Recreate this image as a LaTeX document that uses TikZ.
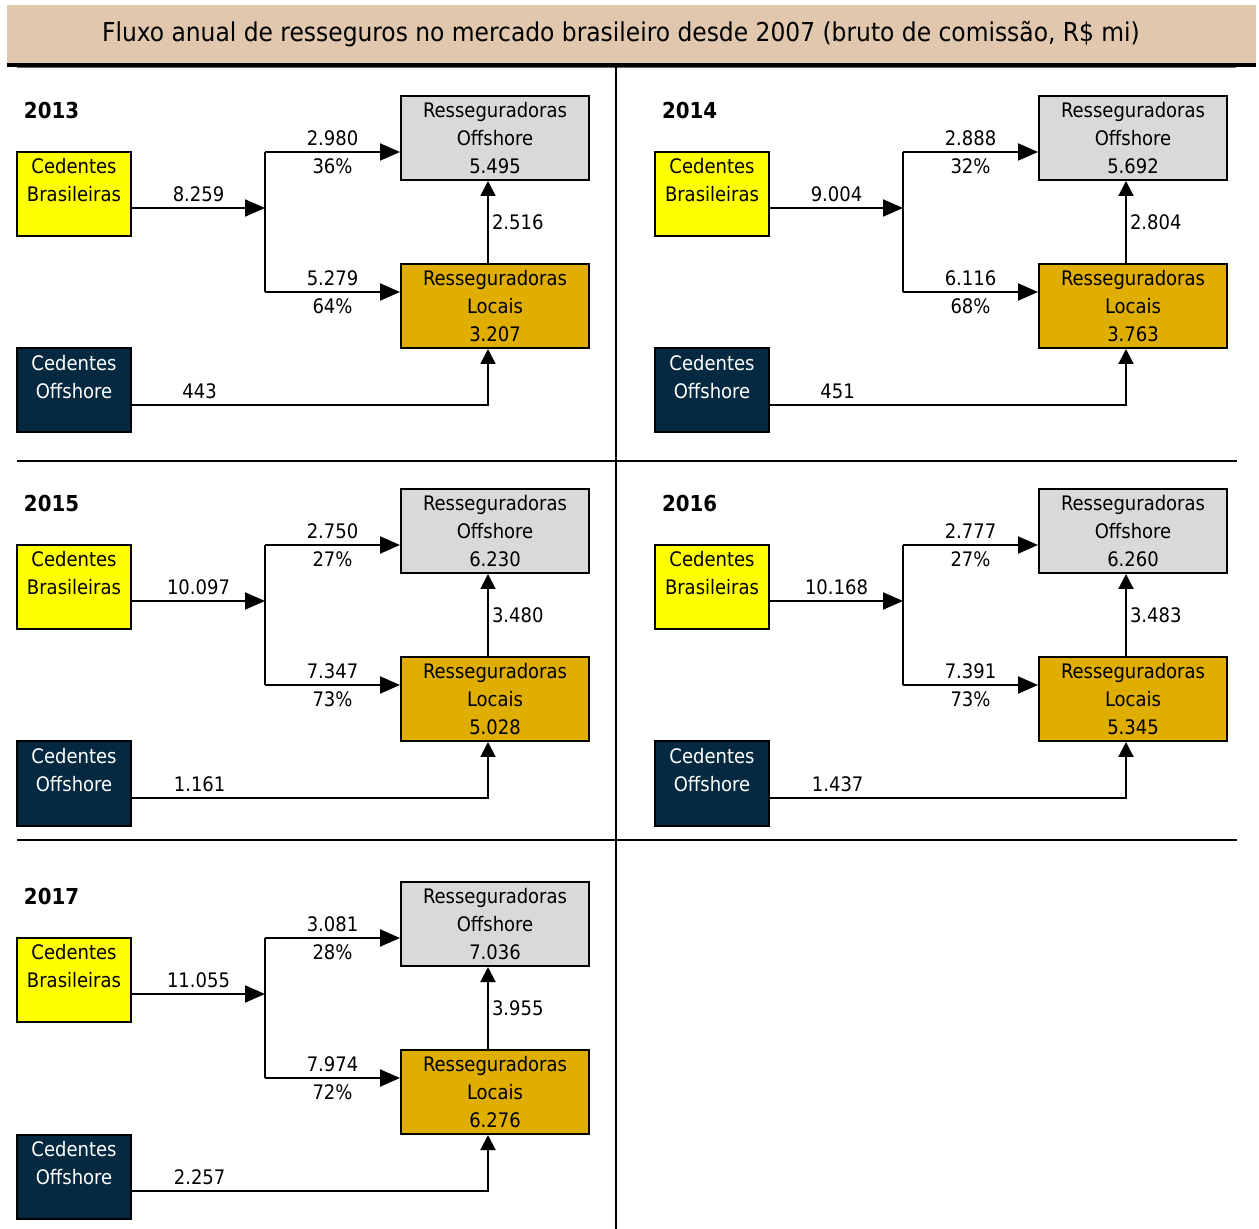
\documentclass[tikz,border=0pt]{standalone}
\usepackage{fontspec}
\setmainfont{DejaVu Sans Condensed}
\usetikzlibrary{arrows.meta}
\definecolor{bege}{RGB}{224,199,174}
\definecolor{amarelo}{RGB}{255,255,0}
\definecolor{marinho}{RGB}{4,41,64}
\definecolor{cinza}{RGB}{217,217,217}
\definecolor{ouro}{RGB}{223,174,0}
\newcommand\topstrut{\rule{0pt}{10.8pt}}
\newcommand\botstrut{\rule[-3.2pt]{0pt}{3.2pt}}
\begin{document}
\begin{tikzpicture}[x=0.5pt, y=-0.5pt, line width=1pt,
    font=\fontsize{10}{14}\selectfont,
    box/.style={draw, line width=1pt, inner sep=0pt, align=center,
      minimum width=57pt, minimum height=42pt},
    cedbr/.style={box, fill=amarelo},
    cedoff/.style={box, fill=marinho, text=white},
    resoff/.style={box, fill=cinza, minimum width=94pt},
    resloc/.style={box, fill=ouro, minimum width=94pt},
    ano/.style={font=\fontsize{11}{14}\selectfont\bfseries, anchor=west, inner sep=0pt},
    flow/.style={-{Triangle[length=10pt,width=8.5pt]}},
    flowup/.style={-{Triangle[length=7.5pt,width=7.5pt]}},
    val/.style={midway, yshift=7pt},
    pct/.style={midway, yshift=-7pt}]
  \useasboundingbox (0,0) rectangle (1259,1229);
  % title bar
  \fill[bege] (7,5) rectangle (1256,63);
  \fill[black] (7,63) rectangle (1256,67);
  \fill[black!60] (17,67) rectangle (1236,68.5);
  \node (titulo) at (621,34) {\fontsize{13}{15}\selectfont Fluxo anual de resseguros no mercado brasileiro desde 2007 (bruto de comissão, R\$ mi)};
  % grid
  \draw (616,67) -- (616,1229);
  \draw (17,461) -- (1237,461);
  \draw (17,840) -- (1237,840);
  % one panel per year
  \foreach \dx/\dy/\yr/\cb/\ao/\po/\al/\pl/\to/\tl/\lo/\co in {
      0/0/2013/8.259/2.980/36\%/5.279/64\%/5.495/3.207/2.516/443,
      638/0/2014/9.004/2.888/32\%/6.116/68\%/5.692/3.763/2.804/451,
      0/393/2015/10.097/2.750/27\%/7.347/73\%/6.230/5.028/3.480/1.161,
      638/393/2016/10.168/2.777/27\%/7.391/73\%/6.260/5.345/3.483/1.437,
      0/786/2017/11.055/3.081/28\%/7.974/72\%/7.036/6.276/3.955/2.257} {
    \begin{scope}[shift={(\dx,\dy)}]
      \node[ano] (a\yr) at (23,110) {\yr};
      \node[cedbr] (cb\yr) at (74,194) {\topstrut Cedentes\\Brasileiras\\\botstrut};
      \node[cedoff] (co\yr) at (74,390.5) {\topstrut Cedentes\\Offshore\\\botstrut};
      \node[resoff] (ro\yr) at (495,138) {\topstrut Resseguradoras\\Offshore\\\botstrut\to};
      \node[resloc] (rl\yr) at (495,306) {\topstrut Resseguradoras\\Locais\\\botstrut\tl};
      \coordinate (j\yr) at (265,208);
      \coordinate (jt\yr) at (265,152);
      \coordinate (jb\yr) at (265,292);
      \coordinate (k\yr) at (488,405);
      \draw[flow] (cb\yr.east |- j\yr) -- node[val] {\cb} (j\yr);
      \draw (jt\yr) -- (jb\yr);
      \draw[flow] (jt\yr) -- node[val] {\ao} node[pct] {\po} (ro\yr.west |- jt\yr);
      \draw[flow] (jb\yr) -- node[val] {\al} node[pct] {\pl} (rl\yr.west |- jb\yr);
      \draw[flowup] (rl\yr.north -| k\yr) -- node[right, inner sep=1.5pt] {\lo} (ro\yr.south -| k\yr);
      \draw[flowup] (co\yr.east |- k\yr) -- node[val, pos=0.19] {\co} (k\yr) -- (rl\yr.south -| k\yr);
    \end{scope}
  }
\end{tikzpicture}
\end{document}
